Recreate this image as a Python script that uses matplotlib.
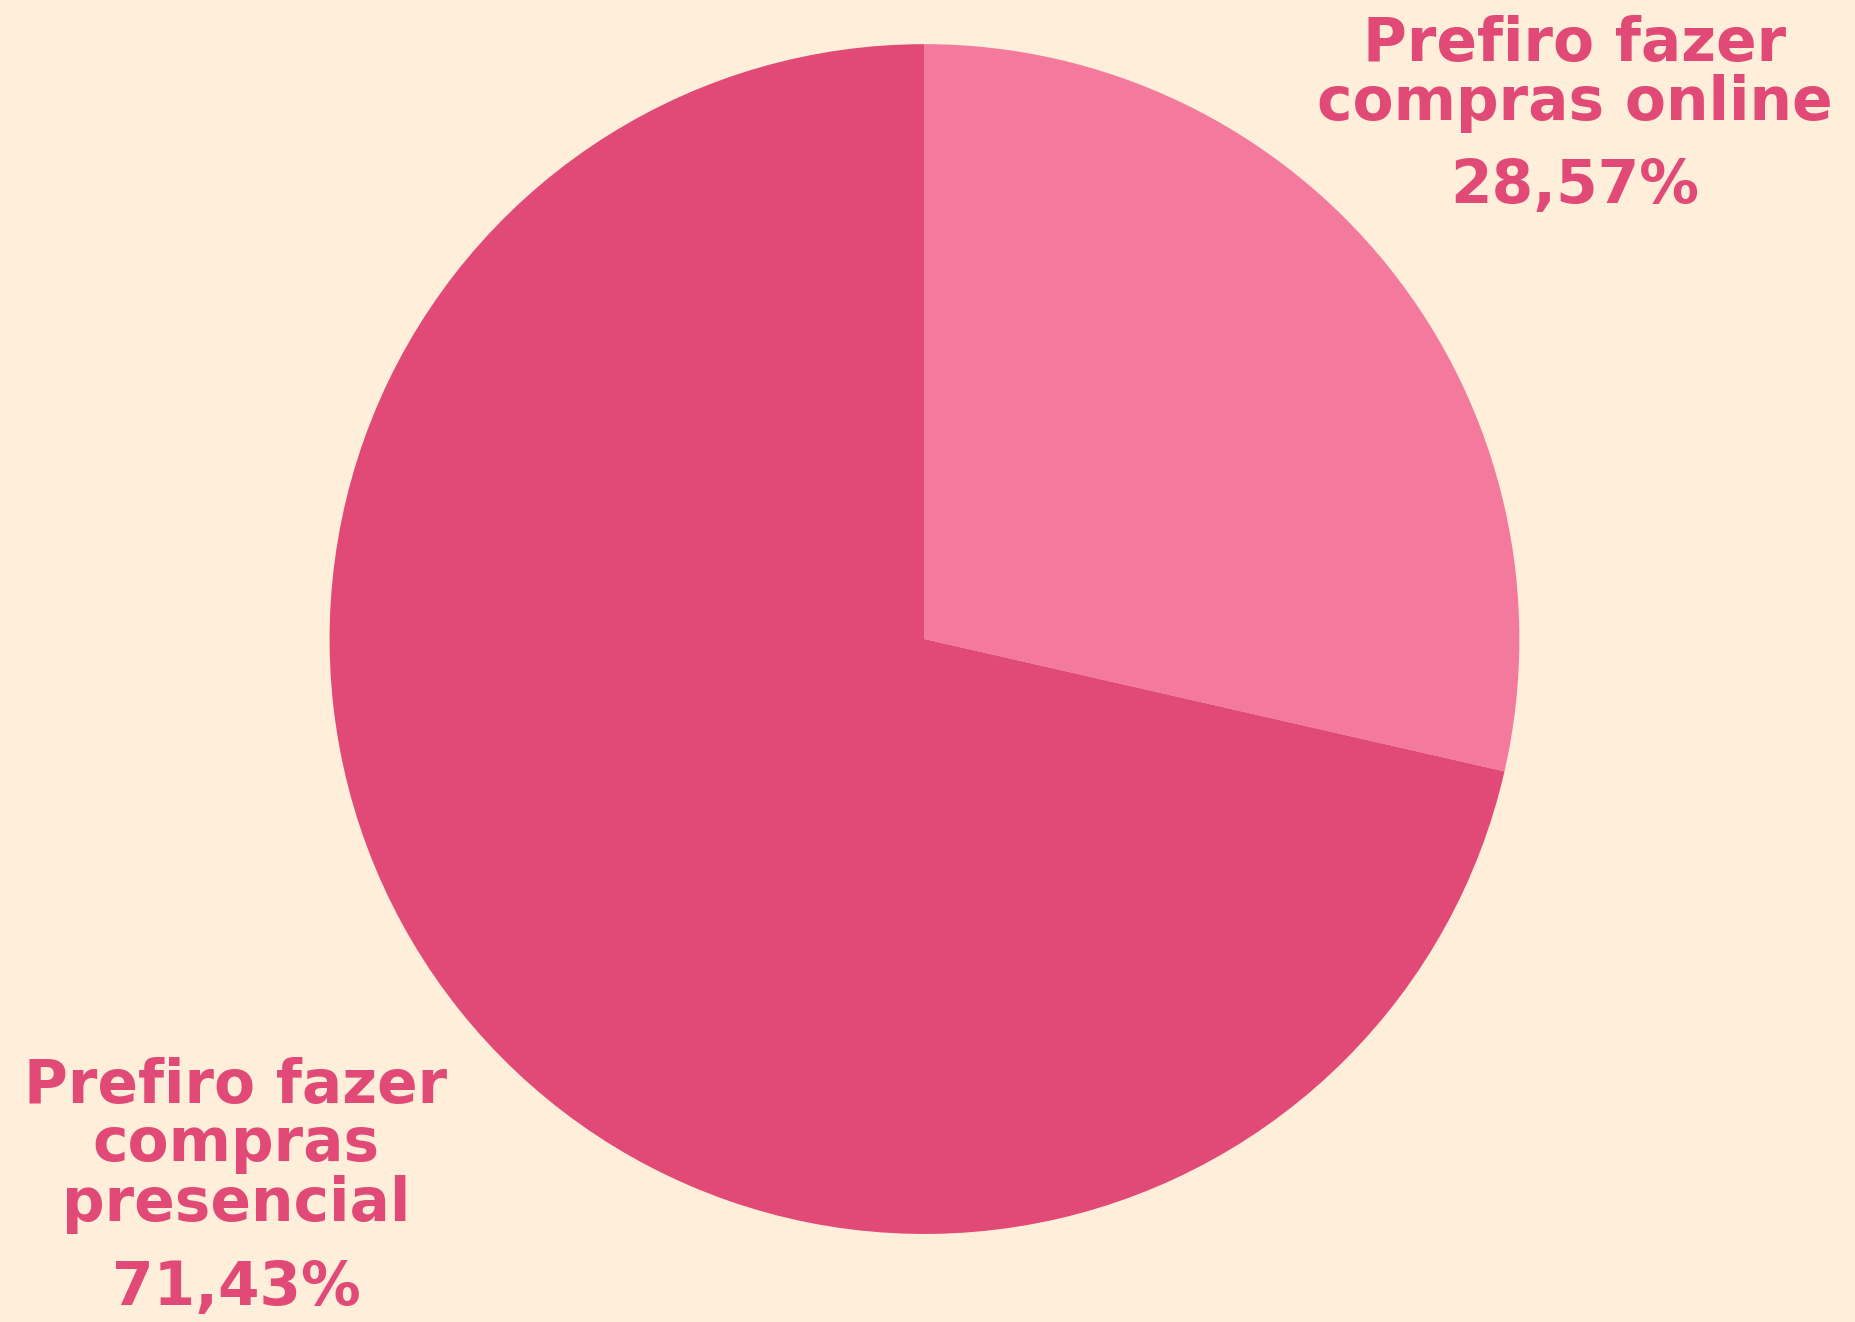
import matplotlib.pyplot as plt

labels = ["Prefiro fazer\ncompras online", "Prefiro fazer\ncompras\npresencial"]
values = [28.57, 71.43]
pct_text = ["28,57%", "71,43%"]
colors = ["#F37A9C", "#E14A76"]

bg = "#FFEEDA"
txt_color = "#E14A76"

fig = plt.figure(figsize=(18.56, 13.22), dpi=100, facecolor=bg)
ax = fig.add_axes([0.1775, 0.0666, 0.6412, 0.900])
ax.set_facecolor(bg)

ax.pie(values, colors=colors, startangle=90, counterclock=False,
       radius=1, wedgeprops=dict(linewidth=0))
ax.set_xlim(-1, 1)
ax.set_ylim(-1, 1)
ax.set_aspect('equal')
ax.axis('off')

font = dict(family=['DejaVu Sans'], fontweight='bold', color=txt_color,
            ha='center', va='center', fontsize=43, linespacing=1.0)

# online label (top right)
fig.text(1575/1856, 1 - 74/1322, labels[0], **font)
fig.text(1575/1856, 1 - 186/1322, pct_text[0], **font)

# presencial label (bottom left)
fig.text(236/1856, 1 - 1145/1322, labels[1], **font)
fig.text(236/1856, 1 - 1288/1322, pct_text[1], **font)

fig.savefig("out.png", dpi=100, facecolor=bg)
